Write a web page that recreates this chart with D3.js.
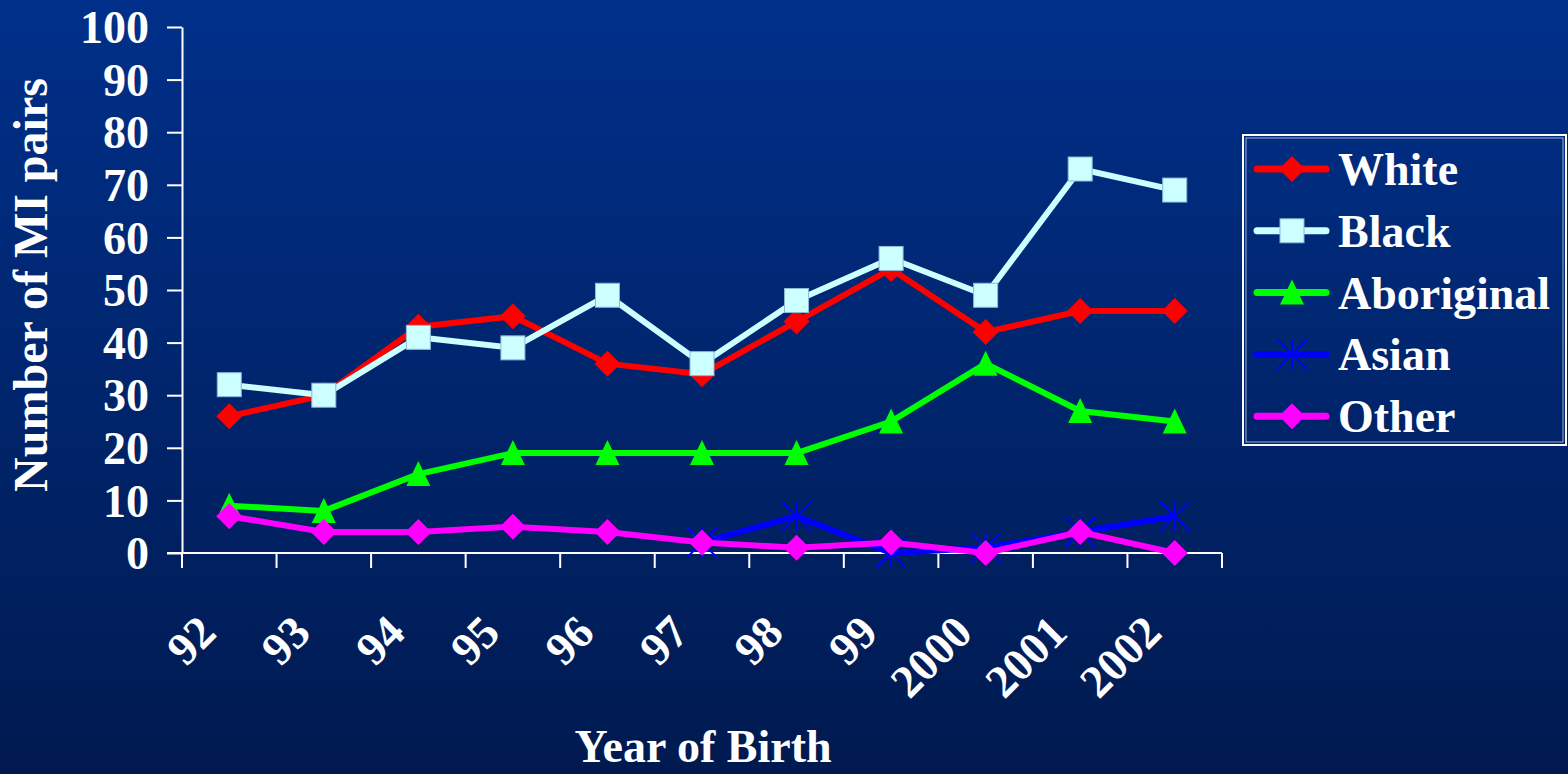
<!DOCTYPE html>
<html><head><meta charset="utf-8">
<script src="https://cdn.jsdelivr.net/npm/d3@7"></script>
<style>html,body{margin:0;padding:0;background:#002060;}svg{display:block;}</style>
</head><body>
<svg id="c" width="1568" height="774"></svg>
<script>
const years = ["92","93","94","95","96","97","98","99","2000","2001","2002"];
const white = [26,30,43,45,36,34,44,54,42,46,46];
const black = [32,30,41,39,49,36,48,56,49,73,69];
const aboriginal = [9,8,15,19,19,19,19,25,36,27,25];
const asian = [null,null,null,null,null,2,7,0,1,4,7];
const other = [7,4,4,5,4,2,1,2,0,4,0];
const yTicks = [0,10,20,30,40,50,60,70,80,90,100];

const series = [
  {name:"White", values:white, color:"#ff0000", marker:"diamond"},
  {name:"Black", values:black, color:"#ccffff", marker:"square"},
  {name:"Aboriginal", values:aboriginal, color:"#00ff00", marker:"triangle"},
  {name:"Asian", values:asian, color:"#0000ff", marker:"star"},
  {name:"Other", values:other, color:"#ff00ff", marker:"diamond"}
];

const FONT = "'Liberation Serif','Times New Roman',serif";
const svg = d3.select("#c");
const defs = svg.append("defs");
const grad = defs.append("linearGradient").attr("id","bg").attr("x1",0).attr("y1",0).attr("x2",0).attr("y2",1);
grad.append("stop").attr("offset","0%").attr("stop-color","#00308a");
grad.append("stop").attr("offset","100%").attr("stop-color","#001a50");
svg.append("rect").attr("width",1568).attr("height",774).attr("fill","url(#bg)");

const x = d3.scaleBand().domain(years).range([182,1222]).padding(0);
const cx = d => x(d) + x.bandwidth()/2;
const y = d3.scaleLinear().domain([0,100]).range([553,27]);

// Y axis
const yAxis = svg.append("g").attr("transform","translate(182,0)")
  .call(d3.axisLeft(y).tickValues(yTicks).tickSize(15).tickSizeOuter(0).tickPadding(18));
yAxis.select(".domain").attr("stroke","#fff").attr("stroke-width",2);
yAxis.selectAll(".tick line").attr("stroke","#fff").attr("stroke-width",2);
yAxis.selectAll(".tick text").attr("fill","#fff").attr("font-family",FONT)
  .attr("font-weight","bold").attr("font-size",46).attr("dy","0.34em");

// X axis
const xg = svg.append("g");
xg.append("line").attr("x1",167).attr("x2",1222).attr("y1",y(0)).attr("y2",y(0))
  .attr("stroke","#fff").attr("stroke-width",2);
const bounds = years.map(d => x(d)).concat([x(years[years.length-1]) + x.bandwidth()]);
xg.selectAll("line.tk").data(bounds).enter().append("line").attr("class","tk")
  .attr("x1",d=>d).attr("x2",d=>d).attr("y1",y(0)).attr("y2",y(0)+15)
  .attr("stroke","#fff").attr("stroke-width",2);
xg.selectAll("text").data(years).enter().append("text")
  .attr("transform",d=>`translate(${cx(d)-11},${y(0)+82}) rotate(-45)`)
  .attr("text-anchor","end").attr("fill","#fff").attr("font-family",FONT)
  .attr("font-weight","bold").attr("font-size",46).text(d=>d);

// Axis titles
svg.append("text").attr("transform","translate(47,285) rotate(-90)").attr("text-anchor","middle")
  .attr("fill","#fff").attr("font-family",FONT).attr("font-weight","bold").attr("font-size",48)
  .text("Number of MI pairs");
svg.append("text").attr("x",703).attr("y",762).attr("text-anchor","middle")
  .attr("fill","#fff").attr("font-family",FONT).attr("font-weight","bold").attr("font-size",46)
  .text("Year of Birth");

function drawMarker(g, type, color, px, py){
  if(type==="diamond"){
    g.append("path").attr("d",`M${px},${py-13}L${px+13},${py}L${px},${py+13}L${px-13},${py}Z`).attr("fill",color);
  } else if(type==="square"){
    g.append("rect").attr("x",px-12).attr("y",py-12).attr("width",24).attr("height",24)
      .attr("fill",color).attr("stroke","#8fb8d8").attr("stroke-width",1);
  } else if(type==="triangle"){
    g.append("path").attr("d",`M${px},${py-13}L${px+12},${py+12}L${px-12},${py+12}Z`).attr("fill",color);
  } else if(type==="star"){
    const r=15;
    g.append("path").attr("d",`M${px},${py-r}L${px},${py+r}M${px-r},${py-r}L${px+r},${py+r}M${px+r},${py-r}L${px-r},${py+r}`)
      .attr("stroke",color).attr("stroke-width",2).attr("fill","none");
  }
}

const line = d3.line().defined(d=>d.v!==null).x(d=>cx(d.k)).y(d=>y(d.v));
series.forEach(s=>{
  const pts = years.map((k,i)=>({k, v:s.values[i]}));
  const g = svg.append("g");
  g.append("path").datum(pts).attr("d",line).attr("fill","none").attr("stroke",s.color)
    .attr("stroke-width",6).attr("stroke-linejoin","round");
  pts.filter(p=>p.v!==null).forEach(p=>drawMarker(g,s.marker,s.color,cx(p.k),y(p.v)));
});

// Legend
const lg = svg.append("g");
lg.append("rect").attr("x",1243).attr("y",135).attr("width",323).attr("height",310)
  .attr("fill","none").attr("stroke","#fff").attr("stroke-width",2);
lg.append("rect").attr("x",1246).attr("y",138).attr("width",317).attr("height",304)
  .attr("fill","none").attr("stroke","#c8d4f0").attr("stroke-width",0.8);
series.forEach((s,i)=>{
  const ly = 169 + i*61.8;
  lg.append("line").attr("x1",1257).attr("x2",1326).attr("y1",ly).attr("y2",ly)
    .attr("stroke",s.color).attr("stroke-width",7).attr("stroke-linecap","round");
  drawMarker(lg,s.marker,s.color,1292,ly);
  lg.append("text").attr("x",1338).attr("y",ly+16).attr("fill","#fff").attr("font-family",FONT)
    .attr("font-weight","bold").attr("font-size",46).text(s.name);
});
</script>
</body></html>
